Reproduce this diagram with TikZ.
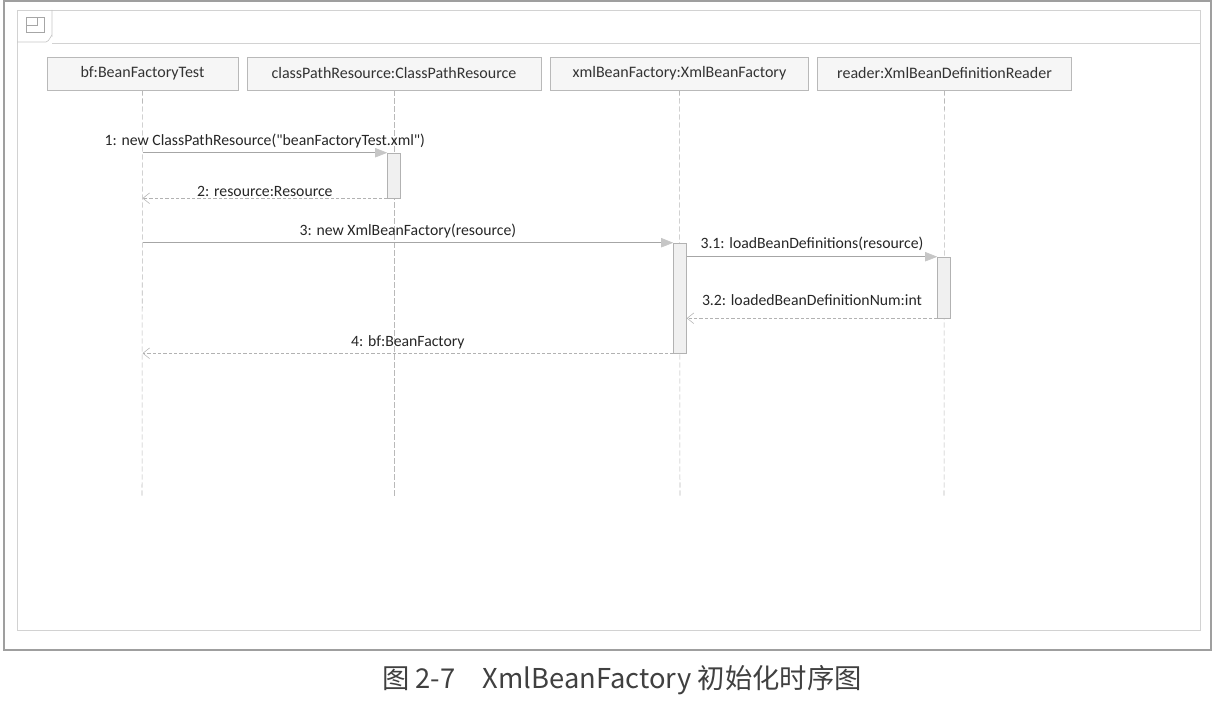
\documentclass[tikz,border=0pt]{standalone}
\usepackage{fontspec}
\setmainfont{Carlito}
\newfontfamily\cjk{Noto Sans CJK SC}
\usetikzlibrary{arrows.meta}

\tikzset{
  lifebox/.style={draw=gray!55, fill=gray!7, minimum height=24.75pt, inner sep=0pt, font=\fontsize{12}{14}\selectfont, text=black!80},
  actbox/.style={draw=gray!60, fill=gray!12, minimum width=9.75pt, inner sep=0pt},
  lifeline/.style={draw=gray!55, dash pattern=on 4pt off 2pt, line width=0.4pt},
  call/.style={draw=gray!70, line width=0.5pt, -{Triangle[length=9pt,width=7pt,color=gray!45,fill=gray!45]}},
  reply/.style={draw=gray!60, line width=0.5pt, dash pattern=on 2.5pt off 1.5pt, -{Straight Barb[length=5pt,width=8pt,line width=0.4pt]}},
  msg/.style={font=\fontsize{11.8}{14}\selectfont, text=black!85, inner sep=1pt}
}

\begin{document}
\begin{tikzpicture}[x=0.75pt,y=0.75pt,yscale=-1]
\useasboundingbox (0,0) rectangle (1215,710);

%Frames
\draw [gray!75, line width=0.8pt] (4,1) rectangle (1211,650);
\draw [gray!35, line width=0.6pt] (17,10) rectangle (1200,630);
\draw [gray!35, line width=0.6pt] (52,43) -- (1200,43);
\draw [gray!45, line width=0.5pt] (17,42) -- (46,42) to[out=0,in=-90] (52,36) -- (52,10);
%Icon
\draw [gray!70, line width=0.5pt] (26,17) rectangle (44,32) (26,25) -- (37,25) -- (37,17);

%Lifeline heads
\node [lifebox, minimum width=143.25pt] (bf) at (142.5,73.5) {bf:BeanFactoryTest};
\node [lifebox, minimum width=220.5pt] (cpr) at (394,73.5) {classPathResource:ClassPathResource};
\node [lifebox, minimum width=193.5pt] (xbf) at (679.5,73.5) {xmlBeanFactory:XmlBeanFactory};
\node [lifebox, minimum width=190.5pt] (rdr) at (944.5,73.5) {reader:XmlBeanDefinitionReader};

%Lifelines
\coordinate (bfEnd) at (142,497);
\coordinate (cprEnd) at (394,497);
\coordinate (xbfEnd) at (680,497);
\coordinate (rdrEnd) at (944,497);
\draw [lifeline] (bf.south) -- (bfEnd);
\draw [lifeline] (cpr.south) -- (cprEnd);
\draw [lifeline] (xbf.south) -- (xbfEnd);
\draw [lifeline] (rdr.south) -- (rdrEnd);

%Activations
\node [actbox, minimum height=33.75pt] (actCpr) at (394,175.5) {};
\node [actbox, minimum height=82.5pt] (actXbf) at (680,298) {};
\node [actbox, minimum height=45.75pt] (actRdr) at (944,287.5) {};

%Messages
\draw [call] (bf.south |- actCpr.north) -- (actCpr.north west)
  node [msg, midway, above=2pt] (m1) {1: new ClassPathResource(\textquotedbl beanFactoryTest.xml\textquotedbl)};
\draw [reply] (actCpr.south west) -- (bf.south |- actCpr.south)
  node [msg, midway, above=0pt] (m2) {2: resource:Resource};
\draw [call] (bf.south |- actXbf.north) -- (actXbf.north west)
  node [msg, midway, above=2pt] (m3) {3: new XmlBeanFactory(resource)};
\draw [call] (actXbf.east |- actRdr.north) -- (actRdr.north west)
  node [msg, midway, above=3pt] (m31) {3.1: loadBeanDefinitions(resource)};
\draw [reply] (actRdr.south west) -- (actXbf.east |- actRdr.south)
  node [msg, midway, above=8pt] (m32) {3.2: loadedBeanDefinitionNum:int};
\draw [reply] (actXbf.south west) -- (bf.south |- actXbf.south)
  node [msg, midway, above=2pt] (m4) {4: bf:BeanFactory};

%Caption
\node [font=\cjk\fontsize{20.5}{24}\selectfont, text=black!75] (cap) at (622,680) {图 2-7\quad XmlBeanFactory 初始化时序图};

\end{tikzpicture}
\end{document}
